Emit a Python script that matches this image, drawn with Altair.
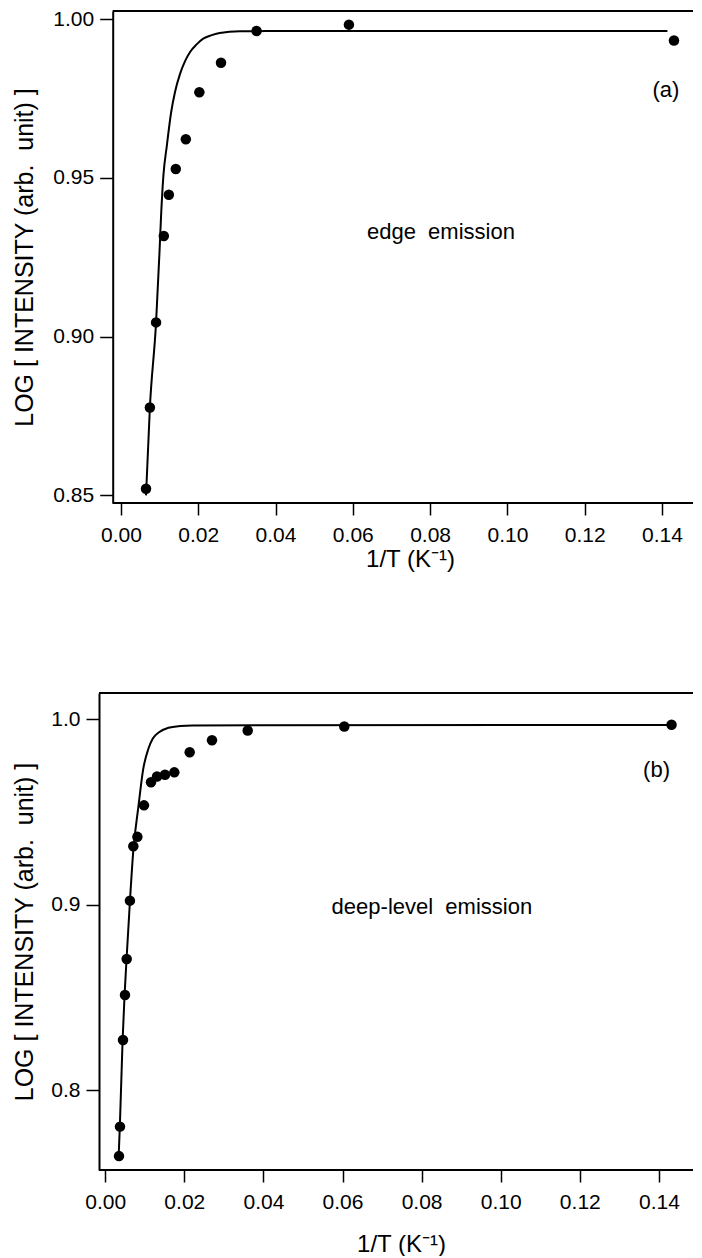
import altair as alt
import pandas as pd

# ---------------- data ----------------
# panel (a): edge emission
a_pts_x = [0.0065, 0.0075, 0.0091, 0.0111, 0.0124, 0.0142, 0.0168, 0.0203, 0.0259, 0.0351, 0.0590, 0.1431]
a_pts_y = [0.8521, 0.8777, 0.9045, 0.9317, 0.9447, 0.9528, 0.9622, 0.9770, 0.9863, 0.9963, 0.9983, 0.9933]
a_fit_x = [0.0065, 0.0075, 0.0091, 0.0100, 0.0104, 0.0110, 0.0119, 0.0130, 0.0140, 0.0153,
           0.0166, 0.0179, 0.0196, 0.0213, 0.0235, 0.0256, 0.0308, 0.0400, 0.1414]
a_fit_y = [0.8500, 0.8777, 0.9045, 0.9270, 0.9382, 0.9508, 0.9603, 0.9707, 0.9771, 0.9828,
           0.9868, 0.9897, 0.9921, 0.9939, 0.9950, 0.9957, 0.9962, 0.9963, 0.9963]

# panel (b): deep-level emission
b_pts_x = [0.00349, 0.00374, 0.0045, 0.0050, 0.00543, 0.00625, 0.00711, 0.00814, 0.00981,
           0.01158, 0.0131, 0.01512, 0.01748, 0.02136, 0.0270, 0.03603, 0.06045, 0.1432]
b_pts_y = [0.7644, 0.7803, 0.8270, 0.8513, 0.8707, 0.9022, 0.9315, 0.9366, 0.9536,
           0.9661, 0.9692, 0.9701, 0.9714, 0.9822, 0.9887, 0.9940, 0.9961, 0.9971]
b_fit_x = [0.0034, 0.0037, 0.0044, 0.0049, 0.0054, 0.0062, 0.0071, 0.0084, 0.0096, 0.0109,
           0.0120, 0.0136, 0.0160, 0.0190, 0.0220, 0.1432]
b_fit_y = [0.7644, 0.7803, 0.8270, 0.8513, 0.8707, 0.9000, 0.9290, 0.9530, 0.9730, 0.9840,
           0.9895, 0.9930, 0.9955, 0.9964, 0.9967, 0.9970]

# tick values
a_yticks = [0.85, 0.90, 0.95, 1.00]
b_yticks = [0.8, 0.9, 1.0]
x_ticks = [0.00, 0.02, 0.04, 0.06, 0.08, 0.10, 0.12, 0.14]

# annotations (text and anchor in data units)
a_notes = ["(a)", "edge\u00a0 emission"]
a_notes_x = [0.1410, 0.0828]
a_notes_y = [0.9776, 0.9330]
b_notes = ["(b)", "deep-level\u00a0 emission"]
b_notes_x = [0.1394, 0.0826]
b_notes_y = [0.9729, 0.8988]

X_TITLE = "1/T (K\u207b\u00b9)"
Y_TITLE = "LOG [ INTENSITY (arb.\u00a0 unit) ]"
FONT = "Liberation Sans"

W = 594  # both plot areas share the same left edge in a vconcat


def panel(px, py, fx, fy, xdom, ydom, yticks, yfmt, notes, nx, ny,
          height, ytitle_pad, xtitle_pad, xtitle_x, yoffset):
    pts = pd.DataFrame({"x": px, "y": py})
    fit = pd.DataFrame({"x": fx, "y": fy})
    txt = pd.DataFrame({"t": notes, "x": nx, "y": ny})

    xs = alt.Scale(domain=xdom, nice=False, zero=False)
    ys = alt.Scale(domain=ydom, nice=False, zero=False)

    xaxis = alt.Axis(title=X_TITLE, values=x_ticks, format=".2f", grid=False,
                     domain=False, tickColor="black",
                     tickWidth=1.5, tickSize=12, labelPadding=9,
                     labelFont=FONT, labelFontSize=21, labelColor="black",
                     titleFont=FONT, titleFontSize=24, titleFontWeight="normal",
                     titleColor="black", titlePadding=xtitle_pad, titleX=xtitle_x)
    yaxis = alt.Axis(title=Y_TITLE, values=yticks, format=yfmt, grid=False,
                     domainColor="black", domainWidth=2, tickColor="black",
                     tickWidth=1.5, tickSize=13, labelPadding=6,
                     labelFont=FONT, labelFontSize=21, labelColor="black",
                     titleFont=FONT, titleFontSize=25, titleFontWeight="normal",
                     titleColor="black", titlePadding=ytitle_pad, offset=yoffset)

    line = alt.Chart(fit).mark_line(color="black", strokeWidth=2, interpolate="monotone").encode(
        x=alt.X("x:Q", scale=xs, axis=xaxis),
        y=alt.Y("y:Q", scale=ys, axis=yaxis),
    )
    dots = alt.Chart(pts).mark_circle(color="black", opacity=1, size=110).encode(
        x=alt.X("x:Q", scale=xs),
        y=alt.Y("y:Q", scale=ys),
    )
    text = alt.Chart(txt).mark_text(font=FONT, fontSize=22, color="black",
                                    align="center", baseline="middle").encode(
        x=alt.X("x:Q", scale=xs),
        y=alt.Y("y:Q", scale=ys),
        text="t:N",
    )
    frame = alt.Chart(pd.DataFrame({"k": [0]}))
    left = -yoffset
    top = frame.mark_rule(color="black", strokeWidth=2).encode(
        x=alt.value(left), x2=alt.value(W), y=alt.value(0)
    )
    bottom = frame.mark_rule(color="black", strokeWidth=2).encode(
        x=alt.value(left), x2=alt.value(W), y=alt.value(height)
    )
    return alt.layer(line, dots, text, top, bottom).properties(width=W, height=height)


pa = panel(a_pts_x, a_pts_y, a_fit_x, a_fit_y, [-0.005666, 0.14802], [0.8476, 1.0026],
           a_yticks, ".2f", a_notes, a_notes_x, a_notes_y, 492, 15, 2, 311, -13.7)
pb = panel(b_pts_x, b_pts_y, b_fit_x, b_fit_y, [-0.001568, 0.14862], [0.7569, 1.0142],
           b_yticks, ".1f", b_notes, b_notes_x, b_notes_y, 477, 13, 20, 302, 0)

chart = alt.vconcat(pa, pb, spacing=121).properties(
    padding={"left": 4, "top": 0, "right": 0, "bottom": 0}
).configure_view(strokeWidth=0)

chart.save("out.html", embed_options={"renderer": "svg", "actions": False})
